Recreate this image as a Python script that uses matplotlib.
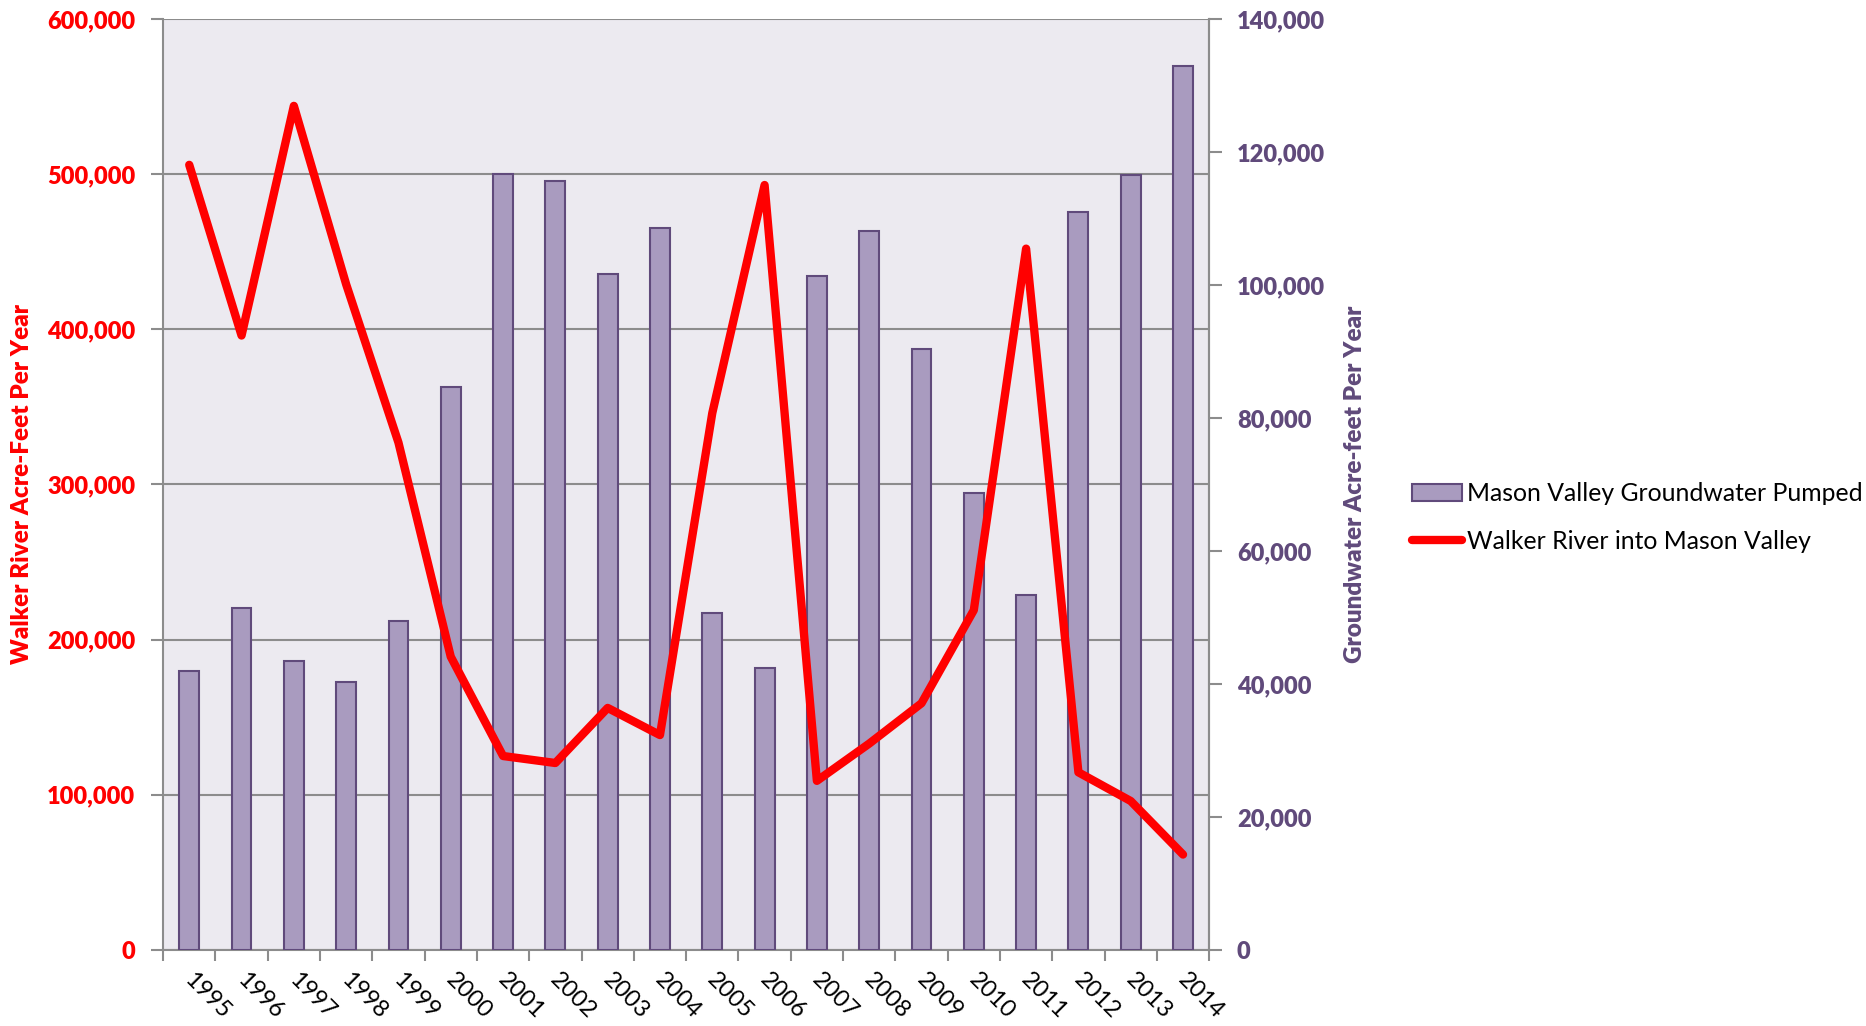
import matplotlib
matplotlib.use("Agg")
import matplotlib.pyplot as plt
from matplotlib.lines import Line2D
from matplotlib.patches import Patch
from matplotlib.transforms import ScaledTranslation

plt.rcParams['font.family'] = ['Lato', 'DejaVu Sans']

years = [str(y) for y in range(1995, 2015)]
groundwater = [42000, 51400, 43500, 40300, 49500, 84600, 116700, 115600, 101700, 108600,
               50700, 42400, 101300, 108100, 90300, 68700, 53400, 111000, 116500, 133000]
river = [506000, 396000, 544000, 429000, 327000, 189000, 125000, 120500, 156000, 138500,
         346000, 493000, 109000, 133000, 159000, 219000, 452000, 114500, 96000, 61500]
river_ticks = list(range(0, 600001, 100000))
gw_ticks = list(range(0, 140001, 20000))

RED = '#FF0000'
PURPLE = '#604A7B'
BAR = '#A99BBF'
GRID = '#8C8C8C'
BG = '#ECEAF0'

fig = plt.figure(figsize=(18.66, 10.26), dpi=100)
ax = fig.add_axes([0.0874, 0.0741, 0.5606, 0.9074])
ax.set_facecolor(BG)
x = list(range(len(years)))

# left axis: walker river scale + grid
ax.set_ylim(0, 600000)
ax.set_xlim(-0.5, len(years) - 0.5)
ax.tick_params(axis='y', colors=GRID, length=9, width=1.5, labelcolor=RED, pad=11)
ax.set_yticks(river_ticks)
ax.set_yticklabels([f'{v:,}' for v in river_ticks], fontweight='heavy', fontsize=17)
ax.grid(axis='y', color=GRID, linewidth=1.5, zorder=0)
ax.set_axisbelow(True)
ax.set_ylabel('Walker River Acre-Feet Per Year', color=RED, fontsize=17.5, fontweight='heavy')
ax.yaxis.set_label_coords(-0.124, 0.5)

ax.tick_params(axis='x', which='major', length=0, pad=14)
ax.tick_params(axis='x', which='minor', length=8, width=1.5, color=GRID)
ax.set_xticks(x)
ax.set_xticklabels(years, rotation=-45, ha='left', va='top', rotation_mode='anchor', fontsize=17)
ax.set_xticks([i - 0.5 for i in range(len(years) + 1)], minor=True)
shift = ScaledTranslation(0.06, 0, fig.dpi_scale_trans)
for lab in ax.get_xticklabels():
    lab.set_transform(lab.get_transform() + shift)
for s in ax.spines.values():
    s.set_color(GRID)
    s.set_linewidth(1.5)
ax.spines['top'].set_visible(False)

# right axis: groundwater bars
ax2 = ax.twinx()
ax2.patch.set_visible(False)
ax2.bar(x, groundwater, width=0.38, color=BAR, edgecolor=PURPLE, linewidth=1.5, zorder=2)
ax2.set_ylim(0, 140000)
ax2.tick_params(axis='y', colors=GRID, length=9, width=1.5, labelcolor=PURPLE, pad=11)
ax2.set_yticks(gw_ticks)
ax2.set_yticklabels([f'{v:,}' for v in gw_ticks], fontweight='heavy', fontsize=17)
ax2.set_ylabel('Groundwater Acre-feet Per Year', color=PURPLE, fontsize=17.5, fontweight='heavy')
ax2.yaxis.set_label_coords(1.1286, 0.5)
for s in ax2.spines.values():
    s.set_visible(False)
ax2.spines['right'].set_visible(True)
ax2.spines['right'].set_color(GRID)
ax2.spines['right'].set_linewidth(1.5)

# line on top, same scale as left axis
ax3 = fig.add_axes(ax.get_position(), sharex=ax, sharey=ax)
ax3.axis('off')
ax3.plot(x, river, color=RED, linewidth=6, solid_capstyle='round', solid_joinstyle='round')

handles = [Patch(facecolor=BAR, edgecolor=PURPLE, linewidth=1.5),
           Line2D([], [], color=RED, linewidth=6, solid_capstyle='round')]
fig.legend(handles, ['Mason Valley Groundwater Pumped', 'Walker River into Mason Valley'],
           loc='upper left', bbox_to_anchor=(0.745, 0.552), frameon=False,
           fontsize=17.8, handlelength=2.0, handletextpad=0.2, labelspacing=1.0)

fig.savefig('out.png', dpi=100)
